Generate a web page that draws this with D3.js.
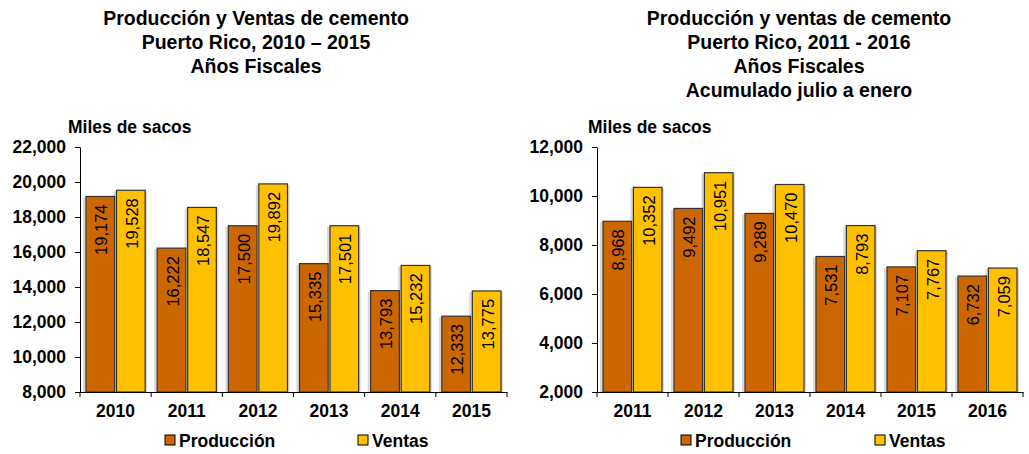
<!DOCTYPE html>
<html>
<head>
<meta charset="utf-8">
<script src="https://cdn.jsdelivr.net/npm/d3@7"></script>
<style>
  body { margin: 0; background: #fff; }
  svg text { font-family: "Liberation Sans", Arial, sans-serif; fill: #000; }
</style>
</head>
<body>
<div id="chart"></div>
<script>
// Chart data
const years1 = ["2010", "2011", "2012", "2013", "2014", "2015"];
const produccion1 = [19174, 16222, 17500, 15335, 13793, 12333];
const ventas1 = [19528, 18547, 19892, 17501, 15232, 13775];
const ticks1 = [8000, 10000, 12000, 14000, 16000, 18000, 20000, 22000];
const title1 = ["Producción y Ventas de cemento", "Puerto Rico, 2010 – 2015", "Años Fiscales"];

const years2 = ["2011", "2012", "2013", "2014", "2015", "2016"];
const produccion2 = [8968, 9492, 9289, 7531, 7107, 6732];
const ventas2 = [10352, 10951, 10470, 8793, 7767, 7059];
const ticks2 = [2000, 4000, 6000, 8000, 10000, 12000];
const title2 = ["Producción y ventas de cemento", "Puerto Rico, 2011 - 2016", "Años Fiscales", "Acumulado julio a enero"];

const seriesNames = ["Producción", "Ventas"];
const colors = ["#CC6600", "#FFC000"];

const width = 1029;
const height = 454;

const svg = d3.select("#chart")
    .append("svg")
    .attr("width", width)
    .attr("height", height);

const fmt = d3.format(",");

function drawChart(opts) {
    const g = svg.append("g");

    // Title lines
    g.selectAll(".title")
        .data(opts.title)
        .enter().append("text")
        .attr("x", opts.titleX)
        .attr("y", (d, i) => 25 + i * 24)
        .attr("text-anchor", "middle")
        .style("font-size", "19.5px")
        .style("font-weight", "bold")
        .text(d => d);

    g.append("text")
        .attr("x", opts.unitX)
        .attr("y", 133)
        .style("font-size", "17.5px")
        .style("font-weight", "bold")
        .text("Miles de sacos");

    const x = d3.scaleBand()
        .domain(opts.years)
        .range([opts.x0, opts.x1]);

    const y = d3.scaleLinear()
        .domain([opts.ticks[0], opts.ticks[opts.ticks.length - 1]])
        .range([392, 147]);

    const inner = d3.scaleBand()
        .domain(seriesNames)
        .range([6, x.bandwidth() - 6])
        .paddingInner(0.06);

    const rows = opts.years.map((yr, i) => ({
        year: yr,
        values: [opts.prod[i], opts.vent[i]]
    }));

    const groups = g.selectAll(".yr")
        .data(rows)
        .enter().append("g")
        .attr("transform", d => `translate(${x(d.year)},0)`);

    // soft shadow behind the bars
    groups.selectAll(".shadow")
        .data(d => d.values.map((v, k) => ({ v, k })))
        .enter().append("rect")
        .attr("x", d => inner(seriesNames[d.k]) - 3)
        .attr("y", d => y(d.v) + 1)
        .attr("width", inner.bandwidth() + 5)
        .attr("height", d => 392 - y(d.v) - 1)
        .attr("fill", "#d9d9d9");

    groups.selectAll(".bar")
        .data(d => d.values.map((v, k) => ({ v, k })))
        .enter().append("rect")
        .attr("x", d => inner(seriesNames[d.k]))
        .attr("y", d => y(d.v))
        .attr("width", inner.bandwidth())
        .attr("height", d => 392 - y(d.v))
        .attr("fill", d => colors[d.k])
        .attr("stroke", "#333")
        .attr("stroke-width", 1.2);

    groups.selectAll(".lbl")
        .data(d => d.values.map((v, k) => ({ v, k })))
        .enter().append("text")
        .attr("transform", d => `translate(${inner(seriesNames[d.k]) + inner.bandwidth() / 2 + 1},${y(d.v) + 8}) rotate(-90)`)
        .attr("text-anchor", "end")
        .attr("dominant-baseline", "central")
        .style("font-size", "16.5px")
        .text(d => fmt(d.v));

    // Axes
    const yAxis = g.append("g")
        .attr("transform", `translate(${opts.x0},0)`)
        .call(d3.axisLeft(y).tickValues(opts.ticks).tickFormat(fmt).tickSize(5).tickSizeOuter(0));
    yAxis.selectAll("text")
        .style("font-size", "17.5px")
        .style("font-weight", "bold")
        .attr("x", -14);

    const xAxis = g.append("g")
        .attr("transform", "translate(0,392)")
        .call(d3.axisBottom(x).tickSize(0).tickSizeOuter(0));
    xAxis.selectAll("text")
        .style("font-size", "17.5px")
        .style("font-weight", "bold")
        .attr("y", 13);
    // category separator ticks
    xAxis.selectAll(".sep")
        .data(d3.range(opts.years.length + 1))
        .enter().append("line")
        .attr("x1", i => opts.x0 + i * x.step())
        .attr("x2", i => opts.x0 + i * x.step())
        .attr("y1", 0)
        .attr("y2", 5)
        .attr("stroke", "#000");
    svg.selectAll(".domain").attr("stroke", "#000");

    // Legend
    const legend = g.append("g")
        .attr("transform", "translate(0,440)");
    seriesNames.forEach((name, k) => {
        legend.append("rect")
            .attr("x", opts.legendX[k])
            .attr("y", -5)
            .attr("width", 10)
            .attr("height", 10)
            .attr("fill", colors[k])
            .attr("stroke", "#000");
        legend.append("text")
            .attr("x", opts.legendX[k] + 14)
            .attr("y", 6.5)
            .style("font-size", "17.5px")
            .style("font-weight", "bold")
            .text(name);
    });
}

drawChart({
    years: years1, prod: produccion1, vent: ventas1, ticks: ticks1, title: title1,
    titleX: 256, unitX: 68, x0: 80, x1: 507, legendX: [165, 358]
});

drawChart({
    years: years2, prod: produccion2, vent: ventas2, ticks: ticks2, title: title2,
    titleX: 799, unitX: 588, x0: 597, x1: 1023, legendX: [681, 875]
});
</script>
</body>
</html>
